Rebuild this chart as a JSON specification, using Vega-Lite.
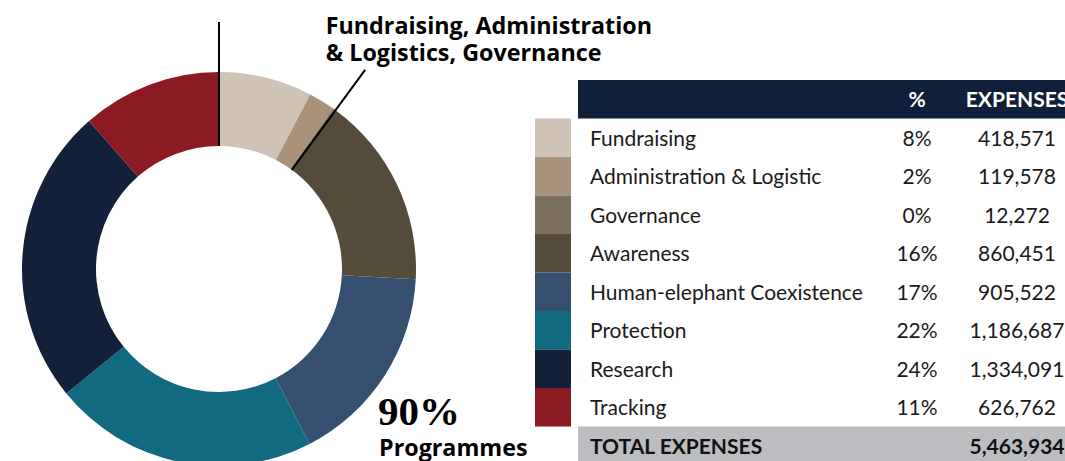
{
  "$schema": "https://vega.github.io/schema/vega-lite/v6.json",
  "padding": 0,
  "background": "#ffffff",
  "bounds": "flush",
  "spacing": 97,
  "config": {
    "view": {"stroke": null},
    "text": {"font": "Lato", "fontSize": 21, "dy": 2}
  },
  "datasets": {
    "categories": [
      {"category": "Fundraising", "expenses": 418571, "share": 0.08},
      {"category": "Administration & Logistic", "expenses": 119578, "share": 0.02},
      {"category": "Governance", "expenses": 12272, "share": 0.0},
      {"category": "Awareness", "expenses": 860451, "share": 0.16},
      {"category": "Human-elephant Coexistence", "expenses": 905522, "share": 0.17},
      {"category": "Protection", "expenses": 1186687, "share": 0.22},
      {"category": "Research", "expenses": 1334091, "share": 0.24},
      {"category": "Tracking", "expenses": 626762, "share": 0.11}
    ],
    "summary": [
      {"row": "header", "label": "", "pct": "%", "amount": "EXPENSES"},
      {"row": "total", "label": "TOTAL EXPENSES", "pct": "", "amount": "5,463,934"}
    ],
    "bracket": [
      {"edge": "start", "at": 0},
      {"edge": "end", "at": 550421}
    ],
    "notes": [
      {"text": "Fundraising, Administration\n& Logistics, Governance", "at": 550421}
    ],
    "groups": [
      {"group": "Programmes", "share": 0.9}
    ]
  },
  "hconcat": [
    {
      "width": 438,
      "height": 538,
      "layer": [
        {
          "data": {"name": "categories"},
          "transform": [{"window": [{"op": "row_number", "as": "rank"}]}],
          "mark": {"type": "arc", "innerRadius": 123, "outerRadius": 197},
          "encoding": {
            "theta": {"field": "expenses", "type": "quantitative", "stack": true},
            "order": {"field": "rank", "type": "quantitative"},
            "color": {
              "field": "category",
              "type": "nominal",
              "scale": {
                "domain": ["Fundraising", "Administration & Logistic", "Governance", "Awareness", "Human-elephant Coexistence", "Protection", "Research", "Tracking"],
                "range": ["#cec3b4", "#a8937a", "#7b705b", "#544b3a", "#35506f", "#116a7f", "#132039", "#8b1a23"]
              },
              "legend": null
            }
          }
        },
        {
          "data": {"name": "bracket"},
          "mark": {"type": "arc", "radius": 247, "radius2": 123, "stroke": "#000000", "strokeWidth": 2, "color": "#000000"},
          "encoding": {
            "theta": {"field": "at", "type": "quantitative", "stack": null},
            "theta2": {"field": "at"}
          }
        },
        {
          "data": {"name": "notes"},
          "mark": {"type": "text", "radius": 248, "align": "left", "baseline": "top", "lineBreak": "\n", "lineHeight": 27, "font": "Open Sans", "fontWeight": "bold", "fontSize": 23.3, "dx": -40, "dy": -53, "color": "#000000"},
          "encoding": {
            "theta": {"field": "at", "type": "quantitative", "stack": null},
            "text": {"field": "text", "type": "nominal"}
          }
        },
        {
          "data": {"name": "groups"},
          "mark": {"type": "text", "align": "left", "baseline": "alphabetic", "font": "Liberation Serif", "fontWeight": "bold", "fontSize": 41, "dx": 159, "dy": 156, "color": "#000000"},
          "encoding": {
            "text": {"field": "share", "type": "quantitative", "format": ".0%"}
          }
        },
        {
          "data": {"name": "groups"},
          "mark": {"type": "text", "align": "left", "baseline": "alphabetic", "font": "Open Sans", "fontWeight": "bold", "fontSize": 23.3, "dx": 160, "dy": 187, "color": "#000000"},
          "encoding": {
            "text": {"field": "group", "type": "nominal"}
          }
        }
      ]
    },
    {
      "spacing": 7,
      "bounds": "flush",
      "hconcat": [
        {
          "width": 36,
          "height": 461,
          "data": {"name": "categories"},
          "mark": "rect",
          "encoding": {
            "y": {"field": "category", "type": "nominal", "scale": {"type": "band", "domain": ["header", "Fundraising", "Administration & Logistic", "Governance", "Awareness", "Human-elephant Coexistence", "Protection", "Research", "Tracking", "total"], "range": [80, 465], "paddingInner": 0, "paddingOuter": 0}, "axis": null},
            "color": {
              "field": "category",
              "type": "nominal",
              "scale": {
                "domain": ["Fundraising", "Administration & Logistic", "Governance", "Awareness", "Human-elephant Coexistence", "Protection", "Research", "Tracking"],
                "range": ["#cec3b4", "#a8937a", "#7b705b", "#544b3a", "#35506f", "#116a7f", "#132039", "#8b1a23"]
              },
              "legend": null
            }
          }
        },
        {
          "spacing": 0,
          "bounds": "flush",
          "hconcat": [
            {
              "width": 287,
              "height": 461,
              "layer": [
                {
                  "data": {"name": "summary"},
                  "mark": "rect",
                  "encoding": {
                    "y": {"field": "row", "type": "nominal", "scale": {"type": "band", "domain": ["header", "Fundraising", "Administration & Logistic", "Governance", "Awareness", "Human-elephant Coexistence", "Protection", "Research", "Tracking", "total"], "range": [80, 465], "paddingInner": 0, "paddingOuter": 0}, "axis": null},
                    "color": {"condition": {"test": "datum.row === 'header'", "value": "#11203a"}, "value": "#bcbdc0"}
                  }
                },
                {
                  "data": {"name": "categories"},
                  "mark": {"type": "text", "align": "left", "dx": 12, "color": "#1a1a1a"},
                  "encoding": {
                    "x": {"datum": "label", "type": "nominal", "bandPosition": 0, "scale": {"type": "band", "paddingInner": 0, "paddingOuter": 0}, "axis": null},
                    "y": {"field": "category", "type": "nominal", "axis": null},
                    "text": {"field": "category", "type": "nominal"}
                  }
                },
                {
                  "data": {"name": "summary"},
                  "mark": {"type": "text", "align": "left", "dx": 12, "fontWeight": "bold"},
                  "encoding": {
                    "x": {"datum": "label", "type": "nominal", "bandPosition": 0, "axis": null},
                    "y": {"field": "row", "type": "nominal", "axis": null},
                    "text": {"field": "label", "type": "nominal"},
                    "color": {"condition": {"test": "datum.row === 'header'", "value": "#ffffff"}, "value": "#111111"}
                  }
                }
              ]
            },
            {
              "width": 104,
              "height": 461,
              "layer": [
                {
                  "data": {"name": "summary"},
                  "mark": "rect",
                  "encoding": {
                    "y": {"field": "row", "type": "nominal", "scale": {"type": "band", "domain": ["header", "Fundraising", "Administration & Logistic", "Governance", "Awareness", "Human-elephant Coexistence", "Protection", "Research", "Tracking", "total"], "range": [80, 465], "paddingInner": 0, "paddingOuter": 0}, "axis": null},
                    "color": {"condition": {"test": "datum.row === 'header'", "value": "#11203a"}, "value": "#bcbdc0"}
                  }
                },
                {
                  "data": {"name": "categories"},
                  "mark": {"type": "text", "align": "center", "color": "#1a1a1a"},
                  "encoding": {
                    "y": {"field": "category", "type": "nominal", "axis": null},
                    "text": {"field": "share", "type": "quantitative", "format": ".0%"}
                  }
                },
                {
                  "data": {"name": "summary"},
                  "mark": {"type": "text", "align": "center", "fontWeight": "bold"},
                  "encoding": {
                    "y": {"field": "row", "type": "nominal", "axis": null},
                    "text": {"field": "pct", "type": "nominal"},
                    "color": {"condition": {"test": "datum.row === 'header'", "value": "#ffffff"}, "value": "#111111"}
                  }
                }
              ]
            },
            {
              "width": 96,
              "height": 461,
              "layer": [
                {
                  "data": {"name": "summary"},
                  "mark": "rect",
                  "encoding": {
                    "y": {"field": "row", "type": "nominal", "scale": {"type": "band", "domain": ["header", "Fundraising", "Administration & Logistic", "Governance", "Awareness", "Human-elephant Coexistence", "Protection", "Research", "Tracking", "total"], "range": [80, 465], "paddingInner": 0, "paddingOuter": 0}, "axis": null},
                    "color": {"condition": {"test": "datum.row === 'header'", "value": "#11203a"}, "value": "#bcbdc0"}
                  }
                },
                {
                  "data": {"name": "categories"},
                  "mark": {"type": "text", "align": "center", "color": "#1a1a1a"},
                  "encoding": {
                    "y": {"field": "category", "type": "nominal", "axis": null},
                    "text": {"field": "expenses", "type": "quantitative", "format": ","}
                  }
                },
                {
                  "data": {"name": "summary"},
                  "mark": {"type": "text", "align": "center", "fontWeight": "bold"},
                  "encoding": {
                    "y": {"field": "row", "type": "nominal", "axis": null},
                    "text": {"field": "amount", "type": "nominal"},
                    "color": {"condition": {"test": "datum.row === 'header'", "value": "#ffffff"}, "value": "#111111"}
                  }
                }
              ]
            }
          ]
        }
      ]
    }
  ]
}
